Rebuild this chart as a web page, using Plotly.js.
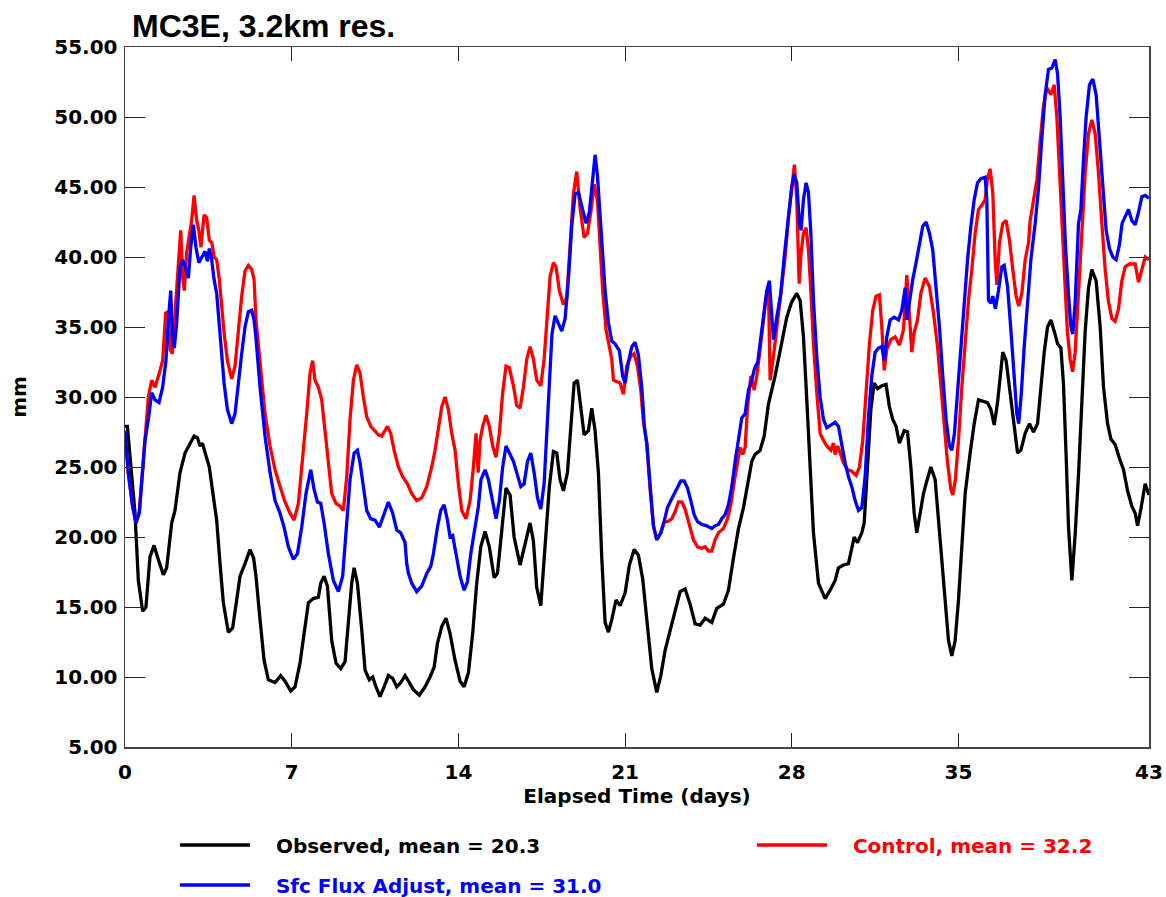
<!DOCTYPE html>
<html>
<head>
<meta charset="utf-8">
<script src="https://cdn.plot.ly/plotly-3.0.1.min.js"></script>
<style>html,body{margin:0;padding:0;background:#fff;}#chart{width:1166px;height:897px;}</style>
</head>
<body>
<div id="chart"></div>
<script>
// ---- data (elapsed time in days, precipitable water in mm) ----
const obsDay = [0.00,0.10,0.42,0.56,0.74,0.88,1.05,1.22,1.40,1.61,1.75,1.96,2.10,2.31,2.52,2.73,2.90,3.04,3.15,3.25,3.40,3.54,3.71,3.85,3.99,4.13,4.34,4.52,4.69,4.83,5.04,5.25,5.40,5.50,5.67,5.84,6.02,6.30,6.54,6.72,6.96,7.14,7.35,7.52,7.70,7.91,8.12,8.22,8.36,8.50,8.68,8.86,9.06,9.24,9.38,9.52,9.62,9.76,9.94,10.08,10.26,10.40,10.54,10.71,10.88,11.06,11.24,11.41,11.58,11.76,11.94,12.11,12.36,12.60,12.81,12.98,13.12,13.30,13.48,13.65,13.86,14.07,14.24,14.42,14.60,14.77,14.94,15.12,15.30,15.50,15.64,15.82,16.00,16.17,16.34,16.59,16.80,17.01,17.15,17.29,17.46,17.64,17.82,17.99,18.13,18.27,18.41,18.58,18.72,18.86,19.00,19.14,19.28,19.46,19.60,19.74,19.88,20.02,20.16,20.30,20.44,20.62,20.79,21.00,21.18,21.38,21.56,21.74,21.94,22.12,22.33,22.50,22.68,22.89,23.10,23.31,23.52,23.73,23.94,24.15,24.36,24.64,24.85,25.13,25.34,25.55,25.76,25.97,26.18,26.32,26.46,26.67,26.84,27.02,27.30,27.51,27.79,28.00,28.21,28.35,28.49,28.63,28.77,28.91,29.12,29.40,29.61,29.82,29.96,30.17,30.38,30.52,30.62,30.76,30.94,31.04,31.18,31.32,31.46,31.60,31.78,31.96,32.10,32.24,32.38,32.52,32.72,32.86,33.00,33.14,33.25,33.39,33.53,33.67,33.84,34.02,34.16,34.30,34.44,34.58,34.72,34.86,35.00,35.14,35.28,35.49,35.66,35.84,36.02,36.22,36.36,36.50,36.64,36.75,36.86,37.00,37.17,37.34,37.48,37.62,37.80,37.98,38.15,38.32,38.46,38.60,38.74,38.88,39.02,39.16,39.30,39.41,39.52,39.62,39.76,39.90,40.04,40.18,40.32,40.46,40.60,40.78,40.95,41.09,41.26,41.40,41.58,41.76,41.93,42.10,42.28,42.42,42.52,42.66,42.84,43.00];
const obsVal = [27.9,27.9,21.7,16.9,14.7,15.0,18.6,19.4,18.4,17.3,17.8,21.0,21.9,24.6,26.0,26.6,27.2,27.1,26.5,26.7,25.7,25.0,22.9,21.2,18.1,15.3,13.2,13.5,15.5,17.2,18.1,19.1,18.5,17.2,14.1,11.2,9.8,9.6,10.1,9.7,9.0,9.3,11.0,13.1,15.3,15.6,15.7,16.7,17.2,16.5,12.6,11.0,10.6,11.1,14.1,16.7,17.8,16.7,13.4,10.5,9.8,10.0,9.3,8.6,9.3,10.1,9.9,9.3,9.6,10.1,9.6,9.1,8.7,9.3,10.0,10.7,12.4,13.6,14.2,13.1,11.2,9.7,9.3,10.3,13.1,16.7,19.3,20.4,19.3,17.1,17.4,20.3,23.5,23.0,20.0,18.0,19.5,21.0,19.7,16.4,15.1,19.0,23.6,26.1,26.0,24.1,23.3,24.6,28.2,31.0,31.2,29.2,27.3,27.6,29.2,27.6,24.6,18.5,13.9,13.2,14.1,15.5,15.1,16.0,18.0,19.1,18.7,17.0,13.9,10.6,8.9,10.1,11.9,13.4,14.7,16.1,16.3,15.2,13.8,13.7,14.2,13.9,14.9,15.2,16.2,18.5,20.6,22.1,23.9,25.4,25.9,26.2,27.2,29.5,31.5,33.4,35.7,36.8,37.4,36.9,34.3,29.8,25.0,20.3,16.7,15.6,16.2,16.9,17.8,18.0,18.1,19.2,20.0,19.6,20.3,21.0,25.0,29.1,31.0,30.6,30.8,30.9,29.3,28.4,27.9,26.7,27.6,27.5,25.0,21.7,20.3,21.7,23.1,24.0,25.0,24.1,21.2,18.4,15.5,12.6,11.5,12.6,15.5,19.6,23.1,26.0,28.1,29.8,29.7,29.6,29.1,28.0,29.6,31.7,33.2,32.6,30.3,27.9,26.0,26.2,27.4,28.1,27.5,28.1,30.7,33.2,35.0,35.5,34.7,33.8,33.5,30.9,25.8,20.7,16.9,20.2,24.5,29.6,34.7,37.8,39.1,38.3,35.0,30.7,28.1,27.0,26.6,25.6,24.8,23.3,22.2,21.7,20.8,22.0,23.8,23.0];

const ctlDay = [0.00,0.14,0.32,0.46,0.60,0.70,0.84,0.98,1.12,1.26,1.44,1.58,1.71,1.82,1.89,1.99,2.10,2.24,2.34,2.42,2.49,2.59,2.69,2.80,2.90,3.01,3.10,3.19,3.32,3.43,3.54,3.65,3.74,3.85,3.96,4.06,4.16,4.30,4.48,4.62,4.76,4.90,5.04,5.18,5.32,5.42,5.50,5.67,5.88,6.09,6.30,6.51,6.72,6.93,7.10,7.28,7.46,7.63,7.77,7.88,7.98,8.12,8.26,8.40,8.54,8.68,8.86,9.03,9.17,9.31,9.45,9.59,9.73,9.87,10.01,10.15,10.32,10.50,10.64,10.78,10.90,11.02,11.16,11.30,11.48,11.66,11.86,12.04,12.25,12.46,12.67,12.88,13.02,13.16,13.30,13.44,13.58,13.72,13.86,14.00,14.14,14.32,14.49,14.63,14.74,14.83,14.91,15.02,15.16,15.30,15.44,15.58,15.72,15.86,16.00,16.14,16.31,16.45,16.59,16.73,16.87,17.01,17.15,17.29,17.46,17.60,17.74,17.85,17.99,18.10,18.24,18.41,18.55,18.69,18.83,18.97,19.11,19.28,19.42,19.56,19.70,19.84,19.95,20.06,20.20,20.34,20.44,20.51,20.65,20.79,20.93,21.07,21.24,21.38,21.52,21.66,21.77,21.91,22.05,22.19,22.33,22.50,22.64,22.78,22.96,23.10,23.24,23.38,23.52,23.70,23.87,24.04,24.22,24.36,24.50,24.64,24.78,24.92,25.13,25.30,25.44,25.58,25.72,25.83,25.94,26.04,26.14,26.28,26.42,26.53,26.64,26.78,26.92,27.02,27.09,27.23,27.40,27.58,27.72,27.86,28.00,28.11,28.21,28.31,28.39,28.49,28.60,28.70,28.80,28.91,29.05,29.19,29.33,29.47,29.64,29.75,29.82,29.93,30.03,30.17,30.34,30.52,30.70,30.84,30.98,31.12,31.26,31.40,31.54,31.68,31.78,31.88,31.99,32.16,32.34,32.52,32.69,32.83,32.94,33.04,33.14,33.28,33.42,33.60,33.78,33.95,34.12,34.26,34.40,34.54,34.68,34.76,34.87,35.00,35.14,35.28,35.42,35.56,35.70,35.84,35.98,36.12,36.21,36.33,36.44,36.54,36.61,36.72,36.86,37.00,37.14,37.28,37.42,37.53,37.66,37.80,37.94,38.01,38.15,38.29,38.43,38.57,38.71,38.88,39.02,39.13,39.24,39.35,39.46,39.57,39.69,39.79,39.90,40.04,40.18,40.32,40.46,40.60,40.74,40.88,41.02,41.16,41.30,41.44,41.58,41.72,41.86,42.00,42.18,42.42,42.56,42.70,42.84,43.00];
const ctlVal = [27.4,24.5,22.2,21.0,21.8,24.0,27.4,30.0,31.2,30.7,31.7,32.6,36.0,36.1,33.4,33.1,36.0,39.3,41.9,38.6,37.6,40.3,41.5,42.6,44.4,42.6,41.9,40.7,43.0,42.8,41.2,41.0,40.0,39.8,38.4,36.5,34.6,32.6,31.3,32.2,34.8,37.2,39.0,39.4,39.1,38.4,35.5,32.5,28.8,26.5,24.8,23.6,22.5,21.7,21.2,22.4,25.5,28.8,31.7,32.6,31.2,30.7,29.8,27.6,25.0,23.1,22.4,22.2,21.9,24.3,28.4,31.2,32.3,31.7,30.0,28.6,27.9,27.6,27.3,27.2,27.6,27.9,27.4,26.2,25.0,24.3,23.8,23.1,22.6,22.8,23.6,25.0,26.2,27.9,29.3,30.0,29.1,27.4,26.2,23.8,21.9,21.3,22.6,25.0,27.4,24.6,26.9,27.9,28.7,27.9,26.5,25.7,27.4,30.3,32.2,32.1,30.8,29.4,29.2,30.7,32.7,33.6,32.7,31.2,30.8,32.7,36.3,38.6,39.6,39.3,37.6,36.6,37.1,40.7,44.5,46.1,43.5,41.4,41.7,43.2,45.2,44.0,40.7,37.6,34.8,33.5,32.7,31.2,31.1,31.0,30.2,32.2,32.9,33.1,32.2,30.5,28.2,26.7,23.4,20.8,19.8,20.3,21.1,21.1,21.3,21.8,22.5,22.5,22.0,20.8,19.8,19.3,19.2,19.3,19.0,19.0,19.8,20.3,20.6,21.3,22.3,23.9,25.4,26.4,25.9,26.4,29.2,31.5,30.5,31.5,33.0,35.1,37.1,37.9,31.2,32.9,35.3,37.6,40.0,42.9,45.3,46.6,44.1,38.1,40.3,41.7,42.1,40.5,37.6,33.8,30.3,27.4,26.9,26.5,26.2,26.7,25.9,26.5,26.0,25.3,24.8,24.7,24.4,25.0,26.9,30.3,33.8,36.2,37.2,37.3,35.0,31.9,33.4,34.1,34.3,33.7,34.8,38.7,35.5,33.2,34.6,35.5,37.4,38.5,37.9,36.0,33.6,30.7,27.9,25.3,23.4,23.0,24.1,26.9,30.7,34.1,36.9,39.1,41.7,43.4,43.7,44.1,45.5,46.3,44.6,39.8,38.0,41.0,42.4,42.6,41.2,39.1,37.2,36.5,37.4,39.8,41.0,42.6,43.9,45.5,48.3,50.8,52.1,51.6,52.3,50.0,46.2,42.4,38.6,34.7,32.7,31.8,33.2,37.3,41.9,46.0,48.8,49.8,48.8,46.0,42.4,39.1,36.8,35.6,35.4,36.3,38.3,39.3,39.5,39.5,38.2,39.2,40.0,39.8];

const sfcDay = [0.00,0.14,0.32,0.46,0.60,0.70,0.84,0.98,1.12,1.26,1.43,1.58,1.72,1.82,1.92,1.99,2.07,2.17,2.31,2.42,2.55,2.66,2.76,2.87,2.98,3.10,3.23,3.36,3.46,3.54,3.64,3.74,3.85,3.96,4.06,4.16,4.30,4.48,4.62,4.76,4.90,5.04,5.18,5.32,5.42,5.50,5.67,5.88,6.09,6.30,6.51,6.68,6.86,7.07,7.24,7.42,7.60,7.80,7.94,8.08,8.22,8.36,8.54,8.75,8.96,9.14,9.31,9.45,9.62,9.76,9.87,10.01,10.15,10.32,10.50,10.68,10.85,11.06,11.24,11.41,11.58,11.76,11.83,11.90,12.04,12.25,12.46,12.67,12.84,12.95,13.12,13.26,13.40,13.54,13.65,13.76,13.90,14.07,14.24,14.38,14.52,14.70,14.84,14.95,15.12,15.26,15.44,15.58,15.72,15.86,16.00,16.14,16.31,16.45,16.62,16.76,16.90,17.04,17.18,17.32,17.46,17.60,17.71,17.82,17.93,18.06,18.20,18.34,18.48,18.62,18.76,18.90,19.04,19.18,19.36,19.50,19.64,19.74,19.84,19.92,20.03,20.16,20.30,20.44,20.58,20.76,20.90,21.00,21.14,21.28,21.42,21.56,21.70,21.81,21.91,22.05,22.19,22.33,22.50,22.64,22.78,22.92,23.06,23.20,23.34,23.48,23.62,23.76,23.90,24.04,24.22,24.43,24.64,24.78,24.92,25.06,25.20,25.34,25.48,25.62,25.76,25.90,26.04,26.18,26.29,26.43,26.57,26.67,26.81,26.95,27.06,27.23,27.37,27.54,27.68,27.86,28.00,28.10,28.21,28.32,28.39,28.49,28.60,28.70,28.80,28.91,29.05,29.19,29.33,29.47,29.64,29.82,29.96,30.10,30.24,30.38,30.52,30.66,30.80,30.94,31.08,31.22,31.36,31.50,31.64,31.78,31.89,31.99,32.13,32.30,32.48,32.62,32.76,32.83,32.94,33.08,33.22,33.36,33.50,33.64,33.78,33.92,34.06,34.20,34.34,34.48,34.62,34.72,34.83,34.96,35.10,35.24,35.38,35.52,35.66,35.80,35.94,36.12,36.19,36.26,36.36,36.44,36.55,36.68,36.82,36.92,37.06,37.20,37.34,37.45,37.53,37.64,37.76,37.90,38.04,38.22,38.36,38.50,38.64,38.78,38.92,39.06,39.16,39.27,39.38,39.49,39.62,39.72,39.80,39.90,40.04,40.14,40.25,40.36,40.50,40.64,40.78,40.92,41.07,41.20,41.34,41.48,41.62,41.76,41.87,42.00,42.14,42.28,42.42,42.56,42.70,42.84,43.00];
const sfcVal = [27.6,24.6,22.2,21.0,21.7,23.6,26.9,28.4,30.3,29.8,29.6,30.7,32.6,35.5,37.6,34.3,33.5,35.3,39.3,39.8,39.2,38.5,40.7,42.3,40.7,39.6,40.0,40.4,39.7,40.6,39.8,38.4,37.4,35.3,32.9,31.0,29.1,28.1,28.8,31.2,33.1,35.0,36.1,36.2,35.5,34.2,30.7,27.2,24.6,22.6,21.7,20.7,19.3,18.4,18.8,20.7,23.1,24.8,23.4,22.5,22.4,21.0,18.8,16.9,16.1,17.2,20.7,24.1,26.0,26.2,25.3,23.6,21.9,21.3,21.2,20.7,21.5,22.5,21.7,20.5,20.3,19.6,18.1,17.4,16.7,16.1,16.5,17.4,17.9,18.8,20.7,21.9,22.3,21.2,20.0,20.1,18.8,17.2,16.2,16.8,18.8,20.7,22.2,24.1,24.8,24.1,22.4,21.3,22.6,25.0,26.5,26.0,25.4,24.6,23.6,23.8,25.4,26.0,24.6,22.8,22.0,23.8,27.4,31.2,34.5,35.8,35.2,34.7,35.6,38.4,42.2,44.5,44.6,43.6,42.4,43.2,45.5,47.3,45.8,43.7,40.9,37.6,35.3,34.0,33.8,33.3,31.5,31.0,32.5,33.6,33.9,33.0,30.7,27.9,26.7,23.4,20.8,19.8,20.3,21.1,22.1,22.6,23.1,23.6,24.0,24.0,23.5,22.6,21.6,21.1,20.9,20.8,20.6,20.8,20.9,21.3,21.6,22.3,23.6,25.4,26.9,28.5,28.8,30.5,31.0,32.0,32.5,33.8,35.6,37.6,38.3,34.1,35.7,37.4,40.0,42.9,45.0,45.9,45.3,42.4,41.9,44.1,45.3,44.6,41.7,36.9,32.9,30.0,28.4,27.8,28.0,28.2,27.9,26.5,25.3,24.3,23.6,22.6,21.9,22.1,24.3,28.6,31.5,33.2,33.5,33.6,32.6,34.3,35.5,35.7,35.5,36.2,37.8,35.5,36.9,38.4,39.6,41.0,42.2,42.5,41.7,40.5,37.9,35.0,31.5,28.4,26.5,26.2,27.4,30.3,34.1,36.9,39.8,42.2,44.1,45.3,45.6,45.7,44.1,36.9,36.7,37.2,36.3,37.6,39.3,39.4,37.9,34.8,31.5,28.8,28.1,30.3,33.6,36.9,39.8,42.4,44.9,48.5,51.6,53.4,53.5,54.1,53.1,50.0,45.5,40.9,37.3,35.0,34.5,36.8,42.4,43.4,47.0,50.0,52.3,52.7,51.6,48.5,44.9,41.9,40.6,40.0,39.8,40.9,42.4,42.9,43.4,42.6,42.3,43.2,44.3,44.4,44.2];

const seriesNames = ['Observed, mean = 20.3', 'Control, mean = 32.2', 'Sfc Flux Adjust, mean = 31.0'];
const xTicks = [0, 7, 14, 21, 28, 35, 43];
const yTicks = [5, 10, 15, 20, 25, 30, 35, 40, 45, 50, 55];

// ---- drawing ----
const FONT = 'DejaVu Sans, Liberation Sans, Arial, sans-serif';
const pad = '\u00a0\u00a0\u00a0';
function nm(t, c) { return pad + '<span style="color:' + c + '">' + t + '</span>'; }

const traces = [
  {x: obsDay, y: obsVal, mode: 'lines', line: {color: '#000000', width: 3.3}, name: nm(seriesNames[0], '#000000'), legend: 'legend'},
  {x: ctlDay, y: ctlVal, mode: 'lines', line: {color: '#ff0000', width: 3.3}, name: nm(seriesNames[1], '#ff0000'), legend: 'legend3'},
  {x: sfcDay, y: sfcVal, mode: 'lines', line: {color: '#0000ff', width: 3.3}, name: nm(seriesNames[2], '#0000ff'), legend: 'legend2'}
];

const tickFont = {family: FONT, size: 20, color: '#000', weight: 'bold'};
const axisCommon = {
  showline: true, linecolor: '#444', linewidth: 1.5, mirror: 'ticks',
  ticks: 'inside', tickcolor: '#222', tickwidth: 1,
  showgrid: false, zeroline: false, automargin: false, tickfont: tickFont
};

const legendCommon = {
  orientation: 'h', xanchor: 'left', yanchor: 'middle',
  font: {family: FONT, size: 20, color: '#000', weight: 'bold'},
  itemwidth: 70, bgcolor: 'rgba(0,0,0,0)', borderwidth: 0,
  traceorder: 'normal'
};

const layout = {
  width: 1166, height: 897,
  margin: {l: 125, r: 17, t: 47, b: 150, autoexpand: false},
  paper_bgcolor: '#ffffff', plot_bgcolor: '#ffffff',
  title: {
    text: 'MC3E, 3.2km res.',
    font: {family: 'Liberation Sans, Arial, sans-serif', size: 32, color: '#000', weight: 'bold'},
    xref: 'container', x: 132 / 1166, xanchor: 'left',
    yref: 'container', y: 1 - 26 / 897, yanchor: 'middle'
  },
  xaxis: Object.assign({}, axisCommon, {
    range: [0, 43], tickmode: 'array', tickvals: xTicks, ticktext: xTicks.map(String),
    ticklen: 14, ticklabelstandoff: 6,
    title: {text: 'Elapsed Time (days)', font: tickFont, standoff: 6}
  }),
  yaxis: Object.assign({}, axisCommon, {
    range: [5, 55], tickmode: 'array', tickvals: yTicks, ticktext: yTicks.map(v => v.toFixed(2)),
    ticklen: 20, ticklabelstandoff: 2,
    title: {text: 'mm', font: tickFont, standoff: 22}
  }),
  showlegend: true,
  legend: Object.assign({}, legendCommon, {x: (175 - 125) / 1024, y: (747 - 845) / 700}),
  legend3: Object.assign({}, legendCommon, {x: (752 - 125) / 1024, y: (747 - 845) / 700}),
  legend2: Object.assign({}, legendCommon, {x: (175 - 125) / 1024, y: (747 - 885) / 700})
};

Plotly.newPlot('chart', traces, layout, {displayModeBar: false, staticPlot: true});
</script>
</body>
</html>
